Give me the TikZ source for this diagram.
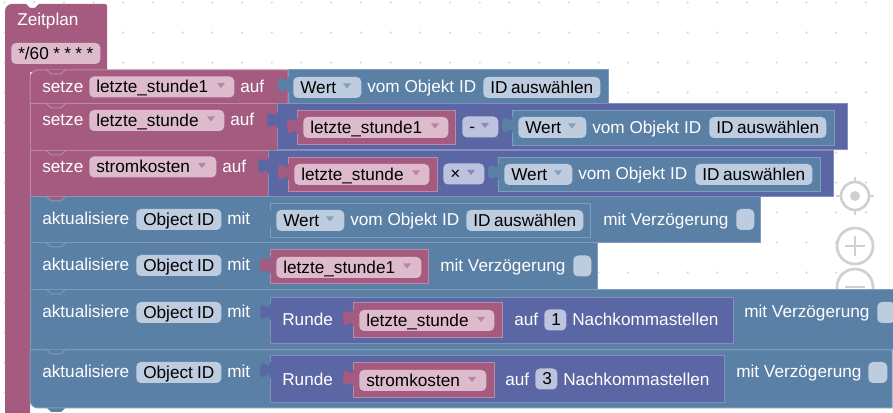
\documentclass[tikz,border=0pt]{standalone}
\usepackage{fontspec}
\setmainfont{Liberation Sans}
\definecolor{PinkBlock}{HTML}{A55B80}
\definecolor{PinkEdge}{HTML}{B98BA6}
\definecolor{PinkField}{HTML}{DDBBCC}
\definecolor{BlueBlock}{HTML}{5B80A5}
\definecolor{BlueEdge}{HTML}{7E9CBC}
\definecolor{BlueField}{HTML}{BDCCDE}
\definecolor{IndigoBlock}{HTML}{5B67A5}
\definecolor{IndigoEdge}{HTML}{868EBF}
\definecolor{IndigoField}{HTML}{BDC2DE}
\definecolor{GridDot}{HTML}{D8D8D8}
\definecolor{ZoomGray}{HTML}{D0D0D0}
\tikzset{
  pinkblock/.style={fill=PinkBlock,draw=PinkEdge,line width=0.75pt},
  blueblock/.style={fill=BlueBlock,draw=BlueEdge,line width=0.75pt},
  indigoblock/.style={fill=IndigoBlock,draw=IndigoEdge,line width=0.75pt},
  label/.style={anchor=base west,inner sep=0pt,yshift=-0.75pt,text=white,font=\fontsize{12.9}{14}\selectfont},
  field/.style={anchor=west,inner xsep=5.25pt,inner ysep=0pt,rounded corners=3.5pt,minimum height=15.75pt,
    text height=10pt,text depth=1.3pt,text=black,align=flush left,font=\fontsize{12.9}{14}\selectfont,
    text width={(#1-14)*0.75pt}},
  pinkfield/.style={field=#1,fill=PinkField},
  bluefield/.style={field=#1,fill=BlueField},
  indigofield/.style={field=#1,fill=IndigoField},
  zoomring/.style={draw=ZoomGray,line width=2pt,fill=white}
}
\begin{document}
\begin{tikzpicture}[x=0.75pt,y=-0.75pt]
  \useasboundingbox (0,0) rectangle (893,413);
  \fill[white] (0,0) rectangle (893,413);

  % workspace dots
  \foreach \i in {0,...,30}
    \foreach \j in {0,...,13}
      \fill[GridDot] (4.5+29.7*\i,2.5+30*\j) circle (0.9pt);

  % zoom controls
  \draw[zoomring] (855,196) circle (14);
  \draw[ZoomGray,line width=2pt] (855,177) -- (855,182) (855,210) -- (855,215) (836,196) -- (841,196) (869,196) -- (874,196);
  \fill[ZoomGray] (855,196) circle (5);
  \draw[zoomring] (855,246) circle (18);
  \draw[ZoomGray,line width=2pt] (845,246) -- (865,246) (855,236) -- (855,256);
  \draw[zoomring] (855,287) circle (18);
  \draw[ZoomGray,line width=2pt] (845,287) -- (865,287);

  % hat block
  \fill[PinkBlock] (5,413) -- (5,11) to[out=90,in=180] (12,4) -- (26,4) -- (30,8) -- (35,8) -- (39,4) -- (105,4)
    to[out=0,in=90] (107,6) -- (107,72) -- (30,72) -- (30,413) -- cycle;

  % statement rows
  \draw[pinkblock] (30,104) -- (30,78) to[out=90,in=180] (38,70) -- (288,70) -- (288,104) -- cycle;
  \draw[pinkblock] (30,104) rectangle (277,151);
  \draw[pinkblock] (30,151) rectangle (268,197);
  \draw[blueblock] (30,197) rectangle (760,243);
  \draw[blueblock] (30,243) rectangle (597,290);
  \draw[blueblock] (30,290) rectangle (893,350);
  \fill[BlueBlock] (47,408) -- (51,412) -- (61,412) -- (65,408) -- cycle;
  \draw[blueblock] (30,350) -- (892,350) -- (892,408) -- (38,408) to[out=180,in=270] (30,400) -- cycle;

  % notches of the row above
  \foreach \ny/\nc/\ne in {70/PinkBlock/PinkEdge,104/PinkBlock/PinkEdge,151/PinkBlock/PinkEdge,197/PinkBlock/BlueEdge,
    243/BlueBlock/BlueEdge,290/BlueBlock/BlueEdge,350/BlueBlock/BlueEdge}{
    \fill[\nc] (47,\ny) -- (51,\ny+4) -- (61,\ny+4) -- (65,\ny) -- cycle;
    \draw[\ne,line width=0.75pt] (47,\ny) -- (51,\ny+4) -- (61,\ny+4) -- (65,\ny);
  }

  % value blocks
  \draw[blueblock] (288,70) rectangle (608,104);
  \draw[indigoblock] (277,104) rectangle (847,150);
  \draw[pinkblock] (297,111) rectangle (455,145);
  \draw[blueblock] (512,111) rectangle (834,146);
  \draw[indigoblock] (268,151) rectangle (833,197);
  \draw[pinkblock] (288,158) rectangle (437,192);
  \draw[blueblock] (498,158) rectangle (820,192);
  \draw[blueblock] (270,204) rectangle (590,238);
  \draw[pinkblock] (270,250) rectangle (428,284);
  \draw[indigoblock] (270,298) rectangle (733,344);
  \draw[pinkblock] (353,303) rectangle (502,338);
  \draw[indigoblock] (270,356) rectangle (724,403);
  \draw[pinkblock] (353,363) rectangle (494,398);

  % puzzle tabs
  \foreach \tx/\ty/\tc in {288/77/BlueBlock,277/112/IndigoBlock,297/118/PinkBlock,512/117/BlueBlock,
    268/158/IndigoBlock,288/164/PinkBlock,498/164/BlueBlock,270/211/BlueBlock,270/257/PinkBlock,
    270/304/IndigoBlock,353/310/PinkBlock,270/362/IndigoBlock,353/370/PinkBlock}
    \fill[\tc] (\tx+1,\ty) -- (\tx,\ty) .. controls (\tx,\ty+10) and (\tx-10,\ty-8) .. (\tx-10,\ty+8)
      .. controls (\tx-10,\ty+24) and (\tx,\ty+6) .. (\tx,\ty+16) -- (\tx+1,\ty+16) -- cycle;

  % hat
  \node[label] (zeitplan) at (17,25) {Zeitplan};
  \node[pinkfield=89] (cron) at (11,53.5) {*/60~*~*~*~*};

  % row 1
  \node[label] (setzeA) at (42,92) {setze};
  \node[pinkfield=145] (varA) at (89,87) {letzte\_stunde1};
  \node[label] (aufA) at (240,92) {auf};
  \node[bluefield=68] (wertA) at (293,87.5) {Wert};
  \node[label] (vomA) at (367,92) {vom Objekt ID};
  \node[bluefield=117] (idA) at (483,87.5) {ID~auswählen};

  % row 2
  \node[label] (setzeB) at (42,125) {setze};
  \node[pinkfield=135] (varB) at (89,120.5) {letzte\_stunde};
  \node[label] (aufB) at (230,125) {auf};
  \node[pinkfield=145] (varC) at (303,127.5) {letzte\_stunde1};
  \node[indigofield=36] (minus) at (462,127) {-};
  \node[bluefield=68] (wertB) at (518,127.5) {Wert};
  \node[label] (vomB) at (592,133) {vom Objekt ID};
  \node[bluefield=117] (idB) at (709,127.5) {ID~auswählen};

  % row 3
  \node[label] (setzeC) at (42,172) {setze};
  \node[pinkfield=127] (varD) at (89,167) {stromkosten};
  \node[label] (aufC) at (222,172) {auf};
  \node[pinkfield=135] (varE) at (294,174.5) {letzte\_stunde};
  \node[indigofield=41] (times) at (443,174) {×};
  \node[bluefield=68] (wertC) at (504,174.5) {Wert};
  \node[label] (vomC) at (578,179) {vom Objekt ID};
  \node[bluefield=117] (idC) at (695,174.5) {ID~auswählen};

  % row 4
  \node[label] (aktD) at (42,224) {aktualisiere};
  \node[bluefield=85] (objD) at (136,219.5) {Object~ID};
  \node[label] (mitD) at (227,224) {mit};
  \node[bluefield=68] (wertD) at (276,220.5) {Wert};
  \node[label] (vomD) at (350,225) {vom Objekt ID};
  \node[bluefield=117] (idD) at (466,220.5) {ID~auswählen};
  \node[label] (verzD) at (603,225) {mit Verzögerung};
  \node[bluefield=18] (boxD) at (736,219.5) {};

  % row 5
  \node[label] (aktE) at (42,270) {aktualisiere};
  \node[bluefield=85] (objE) at (136,265.5) {Object~ID};
  \node[label] (mitE) at (227,270) {mit};
  \node[pinkfield=145] (varF) at (276,267.5) {letzte\_stunde1};
  \node[label] (verzE) at (440,271) {mit Verzögerung};
  \node[bluefield=18] (boxE) at (573,266) {};

  % row 6
  \node[label] (aktF) at (42,317) {aktualisiere};
  \node[bluefield=85] (objF) at (136,312.5) {Object~ID};
  \node[label] (mitF) at (227,317) {mit};
  \node[label] (rundeF) at (282,325) {Runde};
  \node[pinkfield=135] (varG) at (359,320.5) {letzte\_stunde};
  \node[label] (aufF) at (514,325) {auf};
  \node[indigofield=22] (numF) at (544,320) {1};
  \node[label] (nachF) at (572,325) {Nachkommastellen};
  \node[label] (verzF) at (744,317) {mit Verzögerung};
  \node[bluefield=18] (boxF) at (877,312.5) {};

  % row 7
  \node[label] (aktG) at (42,377) {aktualisiere};
  \node[bluefield=85] (objG) at (136,372.5) {Object~ID};
  \node[label] (mitG) at (227,377) {mit};
  \node[label] (rundeG) at (282,385) {Runde};
  \node[pinkfield=127] (varH) at (359,380.5) {stromkosten};
  \node[label] (aufG) at (505,385) {auf};
  \node[indigofield=22] (numG) at (535,379) {3};
  \node[label] (nachG) at (563,385) {Nachkommastellen};
  \node[label] (verzG) at (736,377) {mit Verzögerung};
  \node[bluefield=19] (boxG) at (868,372.5) {};

  % dropdown arrows
  \foreach \ax/\ay/\ac in {221/85/PinkBlock,211/118.5/PinkBlock,202/165/PinkBlock,347/85.5/BlueBlock,
    435/125.5/PinkBlock,485/125/IndigoBlock,572/125.5/BlueBlock,416/172.5/PinkBlock,471/172/IndigoBlock,
    558/172.5/BlueBlock,330/218.5/BlueBlock,407/265.5/PinkBlock,481/319/PinkBlock,472/379/PinkBlock}
    \fill[\ac!75!white] (\ax-4,\ay-2) -- (\ax+4,\ay-2) -- (\ax,\ay+3) -- cycle;
\end{tikzpicture}
\end{document}
